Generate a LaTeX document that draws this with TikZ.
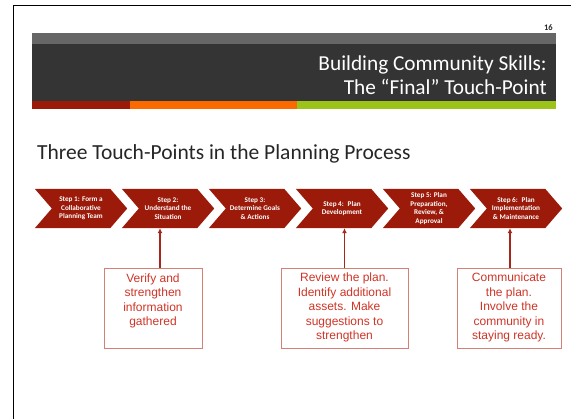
\documentclass[tikz,border=0pt]{standalone}
\usepackage{fontspec}
\setmainfont{Carlito}
\newfontfamily\boxfont{Liberation Sans}
\usetikzlibrary{calc,arrows.meta,backgrounds}

\definecolor{chevred}{RGB}{155,26,10}
\definecolor{hdrgray}{RGB}{102,102,102}
\definecolor{hdrdark}{RGB}{52,52,52}
\definecolor{stripered}{RGB}{156,27,8}
\definecolor{stripeorange}{RGB}{250,106,0}
\definecolor{stripegreen}{RGB}{155,195,26}
\definecolor{notered}{RGB}{206,52,38}
\definecolor{noteframe}{RGB}{212,128,118}
\definecolor{arrowred}{RGB}{165,38,26}
\definecolor{subtitlegray}{RGB}{38,38,38}

\tikzset{
  chevtext/.style={inner sep=0pt, minimum width=58pt, minimum height=39pt,
    align=center, text=white, font=\fontsize{7.2}{8.4}\selectfont\bfseries},
  noteframe/.style={draw=noteframe, line width=0.9pt, minimum height=80pt, inner sep=0pt},
  notetext/.style={inner sep=0pt, align=center, text=notered,
    font=\boxfont\fontsize{12}{14.5}\selectfont},
  uparrow/.style={draw=arrowred, line width=1.5pt,
    -{Latex[length=5pt,width=5pt]}},
}

\begin{document}
\begin{tikzpicture}[x=1pt,y=-1pt]
\useasboundingbox (0,0) rectangle (571,419);

% slide frame edges
\draw[line width=1.8pt] (13.5,419) -- (13.5,5.5) -- (571,5.5);

% page number
\node[anchor=east, inner sep=0pt, text=subtitlegray,
      font=\fontsize{8.5}{8.5}\selectfont\bfseries] (pagenum) at (553,28) {16};

% header bar
\fill[hdrgray] (32,33) rectangle (556,44);
\fill[hdrdark] (32,44) rectangle (556,101);
\fill[stripered] (32,101) rectangle (130,109);
\fill[stripeorange] (130,101) rectangle (297,109);
\fill[stripegreen] (297,101) rectangle (556,109);

\node[anchor=east, inner sep=0pt, align=right, text=white,
      font=\fontsize{21.3}{24}\selectfont] (title) at (547,75)
  {Building Community Skills:\\The “Final” Touch-Point};

% subtitle
\node[anchor=west, inner sep=0pt, text=subtitlegray,
      font=\fontsize{21.5}{21.5}\selectfont] (subtitle) at (37,154)
  {Three Touch-Points in the Planning Process};

% process chevrons
\foreach \i/\x/\t in {
  1/81/{Step 1: Form a\\Collaborative\\Planning Team},
  2/168/{Step 2:\\Understand the\\Situation},
  3/255/{Step 3:\\Determine Goals\\\& Actions},
  4/342/{Step 4:~ Plan\\Development},
  5/429/{Step 5: Plan\\Preparation,\\Review, \&\\Approval},
  6/516/{Step 6:~ Plan\\Implementation\\\& Maintenance}}{
  \node[chevtext] (c\i) at (\x,208.5) {\t};
  \begin{scope}[on background layer]
    \fill[chevred] ([xshift=-17pt]c\i.north west) -- (c\i.north east)
      -- ([xshift=17pt]c\i.east) -- (c\i.south east)
      -- ([xshift=-17pt]c\i.south west) -- (c\i.west) -- cycle;
  \end{scope}
}

% touch-point notes
\node[noteframe, minimum width=98pt] (b1) at (153,308) {};
\node[notetext, anchor=north] (t1) at ([yshift=-6pt]b1.north)
  {Verify and\\strengthen\\information\\gathered};

\node[noteframe, minimum width=127pt] (b2) at (344.5,308) {};
\node[notetext, anchor=north] (t2) at ([yshift=-5.5pt]b2.north)
  {Review the plan.\\Identify additional\\assets. Make\\suggestions to\\strengthen};

\node[noteframe, minimum width=104pt] (b3) at (509,308) {};
\node[notetext, anchor=north] (t3) at ([yshift=-5.5pt]b3.north)
  {Communicate\\the plan.\\Involve the\\community in\\staying ready.};

% connectors from notes up to their steps
\draw[uparrow] ([xshift=7pt]b1.north) -- ([xshift=7pt]b1.north |- c2.south);
\draw[uparrow] (b2.north) -- (b2.north |- c4.south);
\draw[uparrow] ([xshift=1pt]b3.north) -- ([xshift=1pt]b3.north |- c6.south);
\end{tikzpicture}
\end{document}
